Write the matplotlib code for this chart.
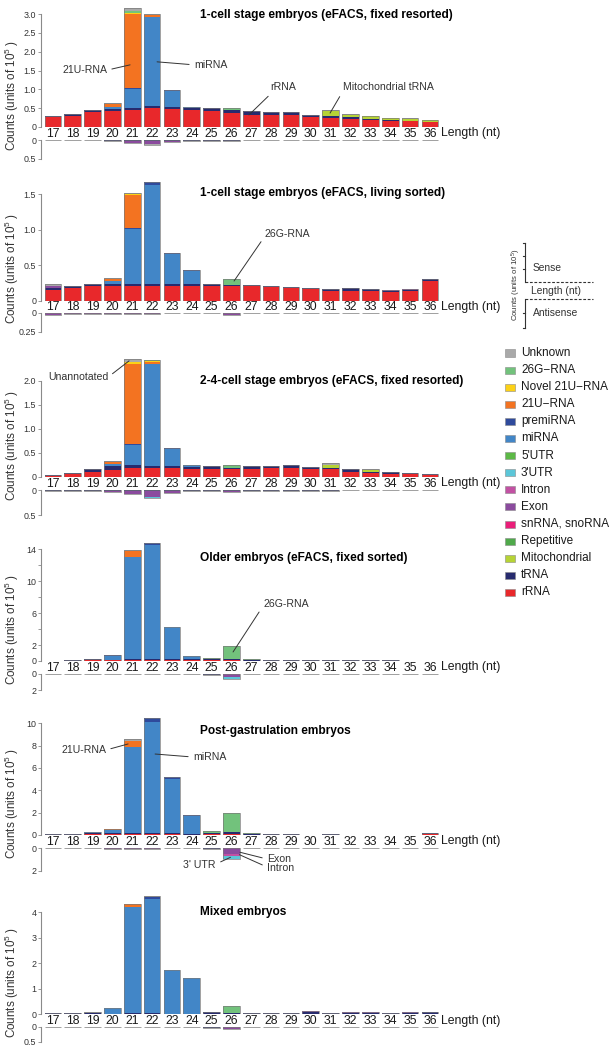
import matplotlib
matplotlib.use("Agg")
import matplotlib.pyplot as plt
from matplotlib.patches import Rectangle
from matplotlib.lines import Line2D
import numpy as np

plt.rcParams['font.family'] = ['Liberation Sans', 'DejaVu Sans']
plt.rcParams['mathtext.fontset'] = 'custom'
plt.rcParams['mathtext.rm'] = 'Liberation Sans'
plt.rcParams['mathtext.it'] = 'Liberation Sans'
plt.rcParams['mathtext.bf'] = 'Liberation Sans:bold'

# ---------------- data ----------------
lengths = [17, 18, 19, 20, 21, 22, 23, 24, 25, 26, 27, 28, 29, 30, 31, 32, 33, 34, 35, 36]
length_labels = [str(v) for v in lengths]

# stacking order, bottom -> top
categories = ['rRNA', 'tRNA', 'Mitochondrial', 'Repetitive', 'snRNA, snoRNA', 'Exon', 'Intron',
              "3'UTR", "5'UTR", 'miRNA', 'premiRNA', '21U-RNA', 'Novel 21U-RNA', '26G-RNA', 'Unknown']
colors = ['#E8282B', '#272B6E', '#B6D335', '#4FA94A', '#EA1E79', '#8B4B9E', '#C251A3',
          '#5BC6D8', '#5CB946', '#4286C7', '#2F4A9C', '#F37321', '#FCD116', '#72C27C', '#A9A9A9']
legend_labels = ['Unknown', '26G\u2212RNA', 'Novel 21U\u2212RNA', '21U\u2212RNA', 'premiRNA', 'miRNA',
                 "5'UTR", "3'UTR", 'Intron', 'Exon', 'snRNA, snoRNA', 'Repetitive', 'Mitochondrial',
                 'tRNA', 'rRNA']

# Panel 1: 1-cell stage embryos (eFACS, fixed resorted)
p1_rrna = [0.26, 0.30, 0.39, 0.43, 0.46, 0.51, 0.48, 0.44, 0.42, 0.37, 0.31, 0.31, 0.31, 0.27, 0.25, 0.22, 0.18, 0.15, 0.15, 0.12]
p1_trna = [0.02, 0.04, 0.07, 0.05, 0.05, 0.04, 0.05, 0.07, 0.08, 0.09, 0.12, 0.10, 0.08, 0.06, 0.03, 0.05, 0.04, 0.03, 0.02, 0.02]
p1_mito = [0, 0, 0, 0, 0, 0, 0, 0, 0, 0, 0, 0, 0, 0, 0.14, 0.06, 0.06, 0.05, 0.05, 0.04]
p1_mirna = [0, 0, 0, 0.06, 0.51, 2.36, 0.43, 0.03, 0, 0, 0, 0, 0, 0, 0, 0, 0, 0, 0, 0]
p1_premirna = [0, 0, 0, 0, 0.01, 0.01, 0.03, 0, 0, 0, 0, 0, 0, 0, 0, 0, 0, 0, 0, 0]
p1_u21 = [0, 0, 0, 0.08, 1.98, 0.06, 0, 0, 0, 0, 0, 0, 0, 0, 0, 0, 0, 0, 0, 0]
p1_novel21u = [0, 0, 0, 0, 0.02, 0, 0, 0, 0, 0, 0, 0, 0, 0, 0, 0, 0, 0, 0, 0]
p1_g26 = [0, 0, 0, 0, 0.04, 0, 0, 0, 0, 0.05, 0, 0, 0, 0, 0, 0, 0, 0, 0, 0]
p1_unknown = [0, 0, 0, 0.02, 0.09, 0.02, 0, 0, 0, 0, 0, 0, 0, 0, 0.02, 0.01, 0.01, 0.01, 0.01, 0.01]
p1_as_trna = [0.01, 0.01, 0.01, 0.02, 0.02, 0.02, 0.02, 0.015, 0.015, 0.015, 0, 0, 0, 0, 0, 0, 0, 0, 0, 0]
p1_as_exon = [0, 0, 0, 0.01, 0.05, 0.08, 0.04, 0, 0, 0.02, 0, 0, 0, 0, 0, 0, 0, 0, 0, 0]
p1_as_unknown = [0, 0, 0, 0, 0, 0.02, 0, 0, 0, 0, 0, 0, 0, 0, 0, 0, 0, 0, 0, 0]

# Panel 2: 1-cell stage embryos (eFACS, living sorted)
p2_rrna = [0.15, 0.17, 0.20, 0.21, 0.21, 0.21, 0.21, 0.21, 0.20, 0.20, 0.20, 0.19, 0.18, 0.16, 0.14, 0.14, 0.13, 0.12, 0.13, 0.27]
p2_trna = [0.03, 0.04, 0.03, 0.03, 0.03, 0.02, 0.02, 0.02, 0.035, 0.02, 0.015, 0.01, 0.015, 0.015, 0.02, 0.03, 0.03, 0.02, 0.02, 0.04]
p2_exon = [0.02, 0, 0, 0, 0, 0, 0, 0, 0, 0, 0, 0, 0, 0, 0, 0, 0, 0.01, 0.01, 0]
p2_mirna = [0, 0, 0, 0.04, 0.77, 1.40, 0.43, 0.19, 0, 0, 0, 0, 0, 0, 0, 0, 0, 0, 0, 0]
p2_premirna = [0, 0, 0, 0, 0.01, 0.04, 0.01, 0.005, 0, 0, 0, 0, 0, 0, 0, 0, 0, 0, 0, 0]
p2_u21 = [0, 0, 0, 0.02, 0.47, 0, 0, 0, 0, 0, 0, 0, 0, 0, 0, 0, 0, 0, 0, 0]
p2_novel21u = [0, 0, 0, 0, 0.01, 0, 0, 0, 0, 0, 0, 0, 0, 0, 0, 0, 0, 0, 0, 0]
p2_g26 = [0, 0, 0, 0, 0, 0, 0, 0, 0, 0.08, 0, 0, 0, 0, 0, 0, 0, 0, 0, 0]
p2_unknown = [0.035, 0, 0, 0.02, 0.02, 0, 0, 0, 0, 0, 0, 0, 0, 0, 0, 0, 0, 0, 0, 0]
p2_as_trna = [0, 0.01, 0.01, 0.01, 0.01, 0.01, 0.01, 0.01, 0.01, 0, 0, 0, 0, 0, 0, 0, 0, 0, 0, 0]
p2_as_exon = [0.03, 0.01, 0.01, 0.01, 0.01, 0.01, 0, 0, 0, 0.03, 0, 0, 0, 0, 0, 0, 0, 0, 0, 0]

# Panel 3: 2-4-cell stage embryos (eFACS, fixed resorted)
p3_rrna = [0.03, 0.055, 0.11, 0.15, 0.18, 0.18, 0.18, 0.16, 0.16, 0.16, 0.16, 0.18, 0.18, 0.16, 0.16, 0.10, 0.08, 0.055, 0.055, 0.04]
p3_trna = [0.01, 0.035, 0.06, 0.07, 0.06, 0.05, 0.05, 0.04, 0.06, 0.03, 0.06, 0.05, 0.06, 0.055, 0.02, 0.07, 0.03, 0.045, 0.035, 0.025]
p3_mito = [0, 0, 0, 0, 0, 0, 0, 0, 0, 0, 0, 0, 0, 0, 0.08, 0, 0.04, 0, 0, 0]
p3_mirna = [0, 0, 0, 0.05, 0.43, 2.13, 0.35, 0.04, 0, 0, 0, 0, 0, 0, 0, 0, 0, 0, 0, 0]
p3_premirna = [0, 0, 0, 0, 0.01, 0, 0.02, 0, 0, 0, 0, 0, 0, 0, 0, 0, 0, 0, 0, 0]
p3_u21 = [0, 0, 0, 0.05, 1.67, 0.03, 0, 0, 0, 0, 0, 0, 0, 0, 0, 0, 0, 0, 0, 0]
p3_novel21u = [0, 0, 0, 0, 0.04, 0.02, 0, 0, 0, 0, 0, 0, 0, 0, 0, 0, 0, 0, 0, 0]
p3_g26 = [0, 0, 0, 0, 0, 0.02, 0, 0, 0, 0.07, 0, 0, 0, 0, 0, 0, 0, 0, 0, 0]
p3_unknown = [0, 0, 0, 0.02, 0.07, 0, 0, 0, 0, 0, 0, 0, 0, 0, 0.03, 0, 0.01, 0, 0, 0]
p3_as_trna = [0.005, 0.01, 0.01, 0.02, 0.01, 0.01, 0.01, 0.015, 0.015, 0.01, 0.01, 0.005, 0.005, 0.005, 0.005, 0, 0, 0, 0, 0]
p3_as_exon = [0, 0, 0, 0.01, 0.06, 0.13, 0.04, 0, 0, 0.03, 0, 0, 0, 0, 0, 0, 0, 0, 0, 0]
p3_as_utr3 = [0, 0, 0, 0, 0, 0.02, 0, 0, 0, 0, 0, 0, 0, 0, 0, 0, 0, 0, 0, 0]

# Panel 4: Older embryos (eFACS, fixed sorted)
p4_rrna = [0.03, 0.05, 0.10, 0.12, 0.15, 0.15, 0.15, 0.15, 0.10, 0.15, 0.05, 0.05, 0.06, 0.05, 0.05, 0.05, 0.04, 0.04, 0.03, 0.03]
p4_trna = [0.02, 0.03, 0.10, 0.05, 0.05, 0.05, 0.05, 0.05, 0.10, 0.10, 0.05, 0.05, 0.05, 0.04, 0.04, 0.04, 0.03, 0.03, 0.03, 0.03]
p4_mirna = [0, 0, 0, 0.50, 12.8, 14.3, 4.10, 0.45, 0, 0, 0, 0, 0, 0, 0, 0, 0, 0, 0, 0]
p4_premirna = [0, 0, 0, 0.03, 0.05, 0.25, 0, 0, 0, 0, 0, 0, 0, 0, 0, 0, 0, 0, 0, 0]
p4_u21 = [0, 0, 0, 0, 0.75, 0, 0, 0, 0, 0, 0, 0, 0, 0, 0, 0, 0, 0, 0, 0]
p4_g26 = [0, 0, 0, 0, 0, 0, 0, 0, 0.15, 1.65, 0.12, 0, 0, 0, 0, 0, 0, 0, 0, 0]
p4_unknown = [0, 0, 0, 0, 0.10, 0, 0, 0, 0, 0, 0, 0, 0, 0, 0, 0, 0, 0, 0, 0]
p4_as_trna = [0, 0, 0, 0, 0.05, 0.05, 0, 0, 0.15, 0, 0.05, 0, 0, 0, 0, 0, 0, 0, 0, 0]
p4_as_exon = [0, 0, 0, 0, 0, 0, 0, 0, 0, 0.35, 0, 0, 0, 0, 0, 0, 0, 0, 0, 0]
p4_as_intron = [0, 0, 0, 0, 0, 0, 0, 0, 0, 0.10, 0, 0, 0, 0, 0, 0, 0, 0, 0, 0]
p4_as_utr3 = [0, 0, 0, 0, 0, 0, 0, 0, 0, 0.20, 0, 0, 0, 0, 0, 0, 0, 0, 0, 0]

# Panel 5: Post-gastrulation embryos
p5_rrna = [0.03, 0.03, 0.05, 0.05, 0.05, 0.05, 0.05, 0.03, 0.05, 0.05, 0.03, 0.02, 0.02, 0.02, 0.02, 0.02, 0.02, 0.02, 0.02, 0.05]
p5_trna = [0.06, 0.08, 0.15, 0.10, 0.10, 0.10, 0.15, 0.10, 0.10, 0.20, 0.05, 0.03, 0.03, 0.02, 0.03, 0.02, 0.02, 0.02, 0.02, 0.10]
p5_exon = [0, 0, 0, 0, 0, 0, 0, 0, 0, 0, 0, 0, 0, 0, 0, 0, 0, 0, 0, 0.03]
p5_mirna = [0, 0, 0.03, 0.30, 7.70, 9.95, 4.85, 1.60, 0, 0, 0, 0, 0, 0, 0, 0, 0, 0, 0, 0]
p5_premirna = [0, 0, 0, 0, 0, 0.33, 0.10, 0.05, 0, 0, 0, 0, 0, 0, 0, 0, 0, 0, 0, 0]
p5_u21 = [0, 0, 0, 0.10, 0.60, 0, 0, 0, 0, 0, 0, 0, 0, 0, 0, 0, 0, 0, 0, 0]
p5_g26 = [0, 0, 0.03, 0, 0, 0, 0, 0, 0.25, 1.70, 0.10, 0, 0, 0, 0, 0, 0, 0, 0, 0]
p5_unknown = [0, 0, 0, 0, 0.12, 0.07, 0, 0, 0, 0, 0, 0, 0, 0, 0, 0, 0, 0, 0, 0]
p5_as_trna = [0.03, 0.03, 0.03, 0.03, 0.03, 0.03, 0.03, 0.03, 0.10, 0, 0.03, 0, 0, 0, 0, 0, 0, 0, 0, 0]
p5_as_exon = [0, 0, 0, 0.04, 0.04, 0.05, 0, 0, 0, 0.50, 0, 0, 0, 0, 0, 0, 0, 0, 0, 0]
p5_as_intron = [0, 0, 0, 0, 0, 0, 0, 0, 0, 0.17, 0, 0, 0, 0, 0, 0, 0, 0, 0, 0]
p5_as_utr3 = [0, 0, 0, 0, 0, 0, 0, 0, 0, 0.29, 0, 0, 0, 0, 0, 0, 0, 0, 0, 0]

# Panel 6: Mixed embryos
p6_rrna = [0.02, 0.02, 0.02, 0, 0.03, 0.03, 0, 0, 0, 0.03, 0.02, 0.02, 0.02, 0.02, 0.01, 0.02, 0.02, 0.01, 0.02, 0.03]
p6_trna = [0.03, 0.03, 0.03, 0.03, 0.03, 0.03, 0.03, 0.03, 0.08, 0.03, 0.04, 0.03, 0.03, 0.06, 0.04, 0.05, 0.04, 0.03, 0.04, 0.05]
p6_exon = [0, 0, 0, 0, 0, 0, 0, 0, 0, 0, 0, 0, 0, 0.03, 0, 0.02, 0.04, 0, 0.03, 0]
p6_mirna = [0, 0, 0, 0.21, 4.16, 4.47, 1.70, 1.38, 0.01, 0, 0, 0, 0, 0, 0, 0, 0, 0, 0, 0]
p6_premirna = [0, 0, 0, 0, 0, 0.08, 0, 0.02, 0, 0, 0, 0, 0, 0, 0, 0, 0, 0, 0, 0]
p6_u21 = [0, 0, 0, 0, 0.09, 0, 0, 0, 0, 0, 0, 0, 0, 0, 0, 0, 0, 0, 0, 0]
p6_g26 = [0, 0, 0.02, 0, 0, 0, 0, 0, 0, 0.28, 0, 0, 0, 0, 0, 0, 0, 0, 0, 0]
p6_unknown = [0, 0, 0.03, 0, 0.03, 0.01, 0, 0, 0, 0, 0, 0, 0, 0, 0, 0, 0, 0, 0, 0]
p6_as_trna = [0, 0, 0, 0, 0, 0, 0, 0, 0.03, 0.02, 0, 0, 0, 0, 0, 0, 0, 0, 0, 0]
p6_as_exon = [0, 0, 0, 0, 0, 0, 0, 0, 0, 0.05, 0, 0, 0, 0, 0, 0, 0, 0, 0, 0]

titles = ['1-cell stage embryos (eFACS, fixed resorted)',
          '1-cell stage embryos (eFACS, living sorted)',
          '2-4-cell stage embryos (eFACS, fixed resorted)',
          'Older embryos (eFACS, fixed sorted)',
          'Post-gastrulation embryos',
          'Mixed embryos']

sense_data = [
    {'rRNA': p1_rrna, 'tRNA': p1_trna, 'Mitochondrial': p1_mito, 'miRNA': p1_mirna, 'premiRNA': p1_premirna,
     '21U-RNA': p1_u21, 'Novel 21U-RNA': p1_novel21u, '26G-RNA': p1_g26, 'Unknown': p1_unknown},
    {'rRNA': p2_rrna, 'tRNA': p2_trna, 'Exon': p2_exon, 'miRNA': p2_mirna, 'premiRNA': p2_premirna,
     '21U-RNA': p2_u21, 'Novel 21U-RNA': p2_novel21u, '26G-RNA': p2_g26, 'Unknown': p2_unknown},
    {'rRNA': p3_rrna, 'tRNA': p3_trna, 'Mitochondrial': p3_mito, 'miRNA': p3_mirna, 'premiRNA': p3_premirna,
     '21U-RNA': p3_u21, 'Novel 21U-RNA': p3_novel21u, '26G-RNA': p3_g26, 'Unknown': p3_unknown},
    {'rRNA': p4_rrna, 'tRNA': p4_trna, 'miRNA': p4_mirna, 'premiRNA': p4_premirna,
     '21U-RNA': p4_u21, '26G-RNA': p4_g26, 'Unknown': p4_unknown},
    {'rRNA': p5_rrna, 'tRNA': p5_trna, 'Exon': p5_exon, 'miRNA': p5_mirna, 'premiRNA': p5_premirna,
     '21U-RNA': p5_u21, '26G-RNA': p5_g26, 'Unknown': p5_unknown},
    {'rRNA': p6_rrna, 'tRNA': p6_trna, 'Exon': p6_exon, 'miRNA': p6_mirna, 'premiRNA': p6_premirna,
     '21U-RNA': p6_u21, '26G-RNA': p6_g26, 'Unknown': p6_unknown},
]
anti_data = [
    {'tRNA': p1_as_trna, 'Exon': p1_as_exon, 'Unknown': p1_as_unknown},
    {'tRNA': p2_as_trna, 'Exon': p2_as_exon},
    {'tRNA': p3_as_trna, 'Exon': p3_as_exon, "3'UTR": p3_as_utr3},
    {'tRNA': p4_as_trna, 'Exon': p4_as_exon, 'Intron': p4_as_intron, "3'UTR": p4_as_utr3},
    {'tRNA': p5_as_trna, 'Exon': p5_as_exon, 'Intron': p5_as_intron, "3'UTR": p5_as_utr3},
    {'tRNA': p6_as_trna, 'Exon': p6_as_exon},
]

sense_ticks = [[0, 0.5, 1.0, 1.5, 2.0, 2.5, 3.0], [0, 0.5, 1.0, 1.5], [0, 0.5, 1.0, 1.5, 2.0],
               [0, 2, 4, 6, 8, 10, 12, 14], [0, 2, 4, 6, 8, 10], [0, 1, 2, 3, 4]]
sense_ticklabels = [['0', '0.5', '1.0', '1.5', '2.0', '2.5', '3.0'], ['0', '0.5', '1.0', '1.5'],
                    ['0', '0.5', '1.0', '1.5', '2.0'], ['0', '2', '', '6', '', '10', '', '14'],
                    ['0', '2', '4', '6', '8', '10'], ['0', '1', '2', '3', '4']]
anti_max = [0.5, 0.25, 0.5, 2, 2, 0.5]
anti_ticklabels = [['0', '0.5'], ['0', '0.25'], ['0', '0.5'], ['0', '2'], ['0', '2'], ['0', '0.5']]

# ---------------- layout (pixels) ----------------
W, H = 616, 1050
zero_px = [127, 300.5, 477, 661, 835, 1014.3]       # sense zero line
toptick_px = [14, 194.3, 381, 549.3, 723.3, 912.3]  # top labelled tick
ymax = [3.2, 1.72, 2.5, 15.0, 10.7, 4.75]
as_zero_px = [140, 312.7, 490.3, 673.7, 848, 1026.7]
as_bot_px = [159, 332, 515.3, 690, 871, 1041.7]
title_y = [15, 193, 381, 558, 731, 912]
X0 = 41
XMIN, XMAX = 16.4, 36.5
PXU = 19.84
X1 = X0 + (XMAX - XMIN) * PXU

TXT = '#333333'
SPINE = '#8a8a8a'
color_of = dict(zip(categories, colors))

fig = plt.figure(figsize=(W / 100, H / 100), dpi=100)


def fx(px):
    return px / W


def fy(py):
    return 1 - py / H


def draw_stack(ax, data):
    bottom = np.zeros(len(lengths))
    for cat in categories:
        if cat in data:
            vals = np.array(data[cat], dtype=float)
            ax.bar(lengths, vals, width=0.84, bottom=bottom, color=color_of[cat],
                   edgecolor='none', linewidth=0)
            bottom = bottom + vals
    ax.bar(lengths, bottom, width=0.84, fill=False, edgecolor='#7a7a7a', linewidth=0.5)


def style_axis(ax):
    for s in ['top', 'right', 'bottom']:
        ax.spines[s].set_visible(False)
    ax.spines['left'].set_color(SPINE)
    ax.spines['left'].set_linewidth(0.8)
    ax.tick_params(axis='y', length=2.2, width=0.6, color=SPINE, labelsize=6.4,
                   labelcolor=TXT, pad=1.2)
    ax.set_facecolor('none')
    ax.set_xlim(XMIN, XMAX)


axes_sense = []
axes_anti = []
for i in range(6):
    scale = (zero_px[i] - toptick_px[i]) / sense_ticks[i][-1]
    top_px = zero_px[i] - ymax[i] * scale
    ax = fig.add_axes([fx(X0), fy(zero_px[i]), fx(X1 - X0), (zero_px[i] - top_px) / H])
    draw_stack(ax, sense_data[i])
    style_axis(ax)
    ax.set_ylim(0, ymax[i])
    ax.spines['left'].set_bounds(0, sense_ticks[i][-1])
    ax.set_yticks(sense_ticks[i])
    ax.set_yticklabels(sense_ticklabels[i])
    ax.set_xticks(lengths)
    ax.set_xticklabels(length_labels, fontsize=8.8, color='#1a1a1a')
    ax.tick_params(axis='x', length=0, pad=0.6)
    axes_sense.append(ax)

    axa = fig.add_axes([fx(X0), fy(as_bot_px[i]), fx(X1 - X0), (as_bot_px[i] - as_zero_px[i]) / H])
    draw_stack(axa, anti_data[i])
    style_axis(axa)
    axa.set_ylim(anti_max[i], 0)
    axa.set_yticks([0, anti_max[i]])
    axa.set_yticklabels(anti_ticklabels[i])
    axa.set_xticks([])
    axes_anti.append(axa)

    # texts
    fig.text(fx(200), fy(title_y[i]), titles[i], fontsize=8.6, fontweight='bold',
             ha='left', va='center', color='black')
    fig.text(fx(441), fy(zero_px[i] + 6.3), 'Length (nt)', fontsize=8.8, ha='left',
             va='center', color='#1a1a1a')
    fig.text(fx(12), fy(zero_px[i] - 32), 'Counts (units of 10$^{5}$ )', rotation=90,
             fontsize=8.4, ha='center', va='center', color=TXT)

# ---------------- annotations ----------------
ann = dict(fontsize=7.6, color=TXT, annotation_clip=False)


def line(relpos=(0.5, 0.5)):
    return dict(arrowstyle='-', color=TXT, lw=0.7, shrinkA=1.5, shrinkB=0, relpos=relpos)


a1 = axes_sense[0]
a1.annotate('21U-RNA', xy=(20.89, 1.65), xytext=(19.73, 1.51), ha='right', va='center',
            arrowprops=line((1, 0.5)), **ann)
a1.annotate('miRNA', xy=(22.25, 1.73), xytext=(24.11, 1.65), ha='left', va='center',
            arrowprops=line((0, 0.5)), **ann)
a1.annotate('rRNA', xy=(26.88, 0.32), xytext=(27.94, 1.06), ha='left', va='center',
            arrowprops=line((0.1, 0)), **ann)
a1.annotate('Mitochondrial tRNA', xy=(30.97, 0.37), xytext=(31.62, 1.06), ha='left', va='center',
            arrowprops=line((0, 0.1)), **ann)

axes_sense[1].annotate('26G-RNA', xy=(26.13, 0.275), xytext=(27.69, 0.94), ha='left', va='center',
                       arrowprops=line((0, 0.3)), **ann)
axes_sense[2].annotate('Unannotated', xy=(20.84, 2.42), xytext=(19.78, 2.08), ha='right',
                       va='center', arrowprops=line((1, 0.5)), **ann)
axes_sense[3].annotate('26G-RNA', xy=(26.08, 1.13), xytext=(27.59, 7.14), ha='left', va='center',
                       arrowprops=line((0, 0.3)), **ann)
a5 = axes_sense[4]
a5.annotate('21U-RNA', xy=(20.79, 8.15), xytext=(19.68, 7.61), ha='right', va='center',
            arrowprops=line((1, 0.5)), **ann)
a5.annotate('miRNA', xy=(22.15, 7.25), xytext=(24.06, 6.98), ha='left', va='center',
            arrowprops=line((0, 0.5)), **ann)
a5a = axes_anti[4]
a5a.annotate("3' UTR", xy=(25.95, 0.81), xytext=(25.22, 1.48), ha='right', va='center',
             arrowprops=line((1, 0.6)), **ann)
a5a.annotate('Exon', xy=(26.43, 0.37), xytext=(27.79, 0.96), ha='left', va='center',
             arrowprops=line((0, 0.5)), **ann)
a5a.annotate('Intron', xy=(26.40, 0.58), xytext=(27.79, 1.74), ha='left', va='center',
             arrowprops=line((0, 0.6)), **ann)

# ---------------- schematic ----------------
sc = '#333333'
fig.add_artist(Line2D([fx(525), fx(525)], [fy(243), fy(282)], color=sc, lw=0.8))
for ty in [243, 256, 269]:
    fig.add_artist(Line2D([fx(522.5), fx(525)], [fy(ty), fy(ty)], color=sc, lw=0.8))
fig.add_artist(Line2D([fx(525), fx(593)], [fy(282), fy(282)], color=sc, lw=0.8, ls=(0, (2.5, 1.5))))
fig.add_artist(Line2D([fx(525), fx(593)], [fy(299), fy(299)], color=sc, lw=0.8, ls=(0, (2.5, 1.5))))
fig.add_artist(Line2D([fx(525), fx(525)], [fy(299), fy(328)], color=sc, lw=0.8))
for ty in [313, 328]:
    fig.add_artist(Line2D([fx(522.5), fx(525)], [fy(ty), fy(ty)], color=sc, lw=0.8))
fig.text(fx(533), fy(268), 'Sense', fontsize=7.4, ha='left', va='center', color=TXT)
fig.text(fx(531), fy(291), 'Length (nt)', fontsize=7.4, ha='left', va='center', color=TXT)
fig.text(fx(533), fy(313), 'Antisense', fontsize=7.4, ha='left', va='center', color=TXT)
fig.text(fx(516), fy(285), 'Counts (units of 10$^{5}$)', rotation=90, fontsize=5.6,
         ha='center', va='center', color=TXT)

# ---------------- legend ----------------
for k, lab in enumerate(legend_labels):
    cy = 353 + 17.1 * k
    col = colors[len(colors) - 1 - k]
    fig.add_artist(Rectangle((fx(505), fy(cy + 3.5)), 10 / W, 7 / H, transform=fig.transFigure,
                             facecolor=col, edgecolor='#8a8a8a', linewidth=0.4))
    fig.text(fx(521), fy(cy), lab, fontsize=8.5, ha='left', va='center', color='#1a1a1a')

fig.savefig('out.png', dpi=100)
